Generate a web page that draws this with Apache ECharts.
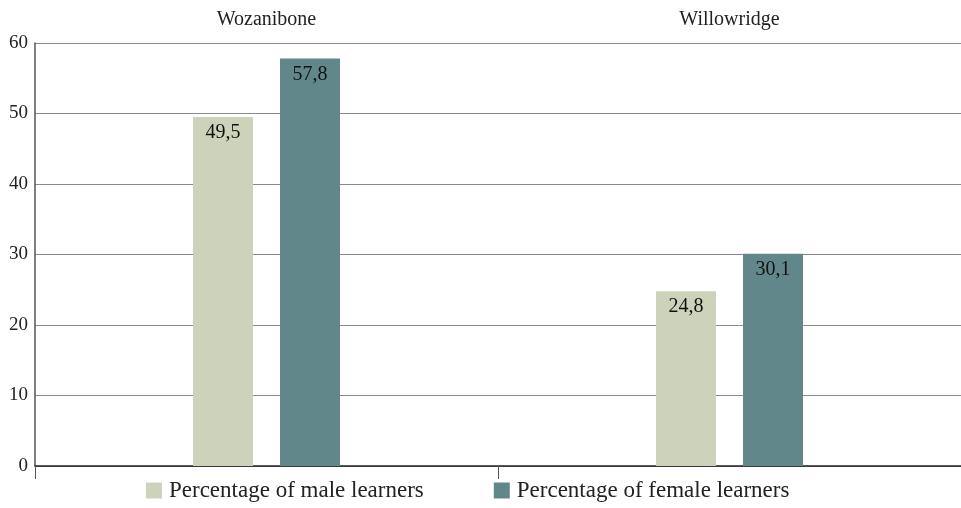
<!DOCTYPE html>
<html><head><meta charset="utf-8">
<script src="https://cdn.jsdelivr.net/npm/echarts@6/dist/echarts.min.js"></script>
<style>html,body{margin:0;padding:0;background:#fff}#c{width:961px;height:508px}</style>
</head><body><div id="c"></div>
<script>
var categories = ['Wozanibone', 'Willowridge'];
var maleValues = [49.5, 24.8];
var femaleValues = [57.8, 30.1];
var seriesNames = ['Percentage of male learners', 'Percentage of female learners'];

var FONT = '"Liberation Serif", "DejaVu Serif", serif';
var chart = echarts.init(document.getElementById('c'), null, {renderer: 'canvas'});
function fmt(p){ return String(p.value).replace('.', ','); }
chart.setOption({
  animation: false,
  backgroundColor: '#fff',
  grid: {left: 35, right: 0, top: 43, bottom: 42, containLabel: false},
  legend: {
    bottom: 1, left: 141, itemWidth: 16, itemHeight: 16, itemGap: 70,
    icon: 'rect',
    textStyle: {fontFamily: FONT, fontSize: 23, color: '#222', padding: [0, 0, 0, 2]},
    data: seriesNames
  },
  xAxis: [{
    type: 'category', data: categories, position: 'bottom',
    axisLine: {show: true, lineStyle: {color: '#222', width: 1.5}},
    axisTick: {show: true, length: 13, lineStyle: {color: '#555'}},
    axisLabel: {show: false}
  }, {
    type: 'category', data: categories, position: 'top',
    axisLine: {show: false}, axisTick: {show: false},
    axisLabel: {show: true, fontFamily: FONT, fontSize: 20, color: '#222', margin: 13}
  }],
  yAxis: {
    type: 'value', min: 0, max: 60, interval: 10,
    axisLine: {show: true, lineStyle: {color: '#555', width: 1.5}},
    axisTick: {show: false},
    axisLabel: {fontFamily: FONT, fontSize: 19, color: '#222', margin: 7},
    splitLine: {show: true, lineStyle: {color: '#8a8a8a', width: 1}}
  },
  series: [{
    name: seriesNames[0], type: 'bar', data: maleValues, barWidth: 60, barGap: '45%',
    itemStyle: {color: '#CDD3BA'},
    label: {show: true, position: 'insideTop', distance: 6, formatter: fmt,
      fontFamily: FONT, fontSize: 20, color: '#111'}
  }, {
    name: seriesNames[1], type: 'bar', data: femaleValues, barWidth: 60, barGap: '45%',
    itemStyle: {color: '#62878B'},
    label: {show: true, position: 'insideTop', distance: 6, formatter: fmt,
      fontFamily: FONT, fontSize: 20, color: '#111'}
  }]
});
</script></body></html>
